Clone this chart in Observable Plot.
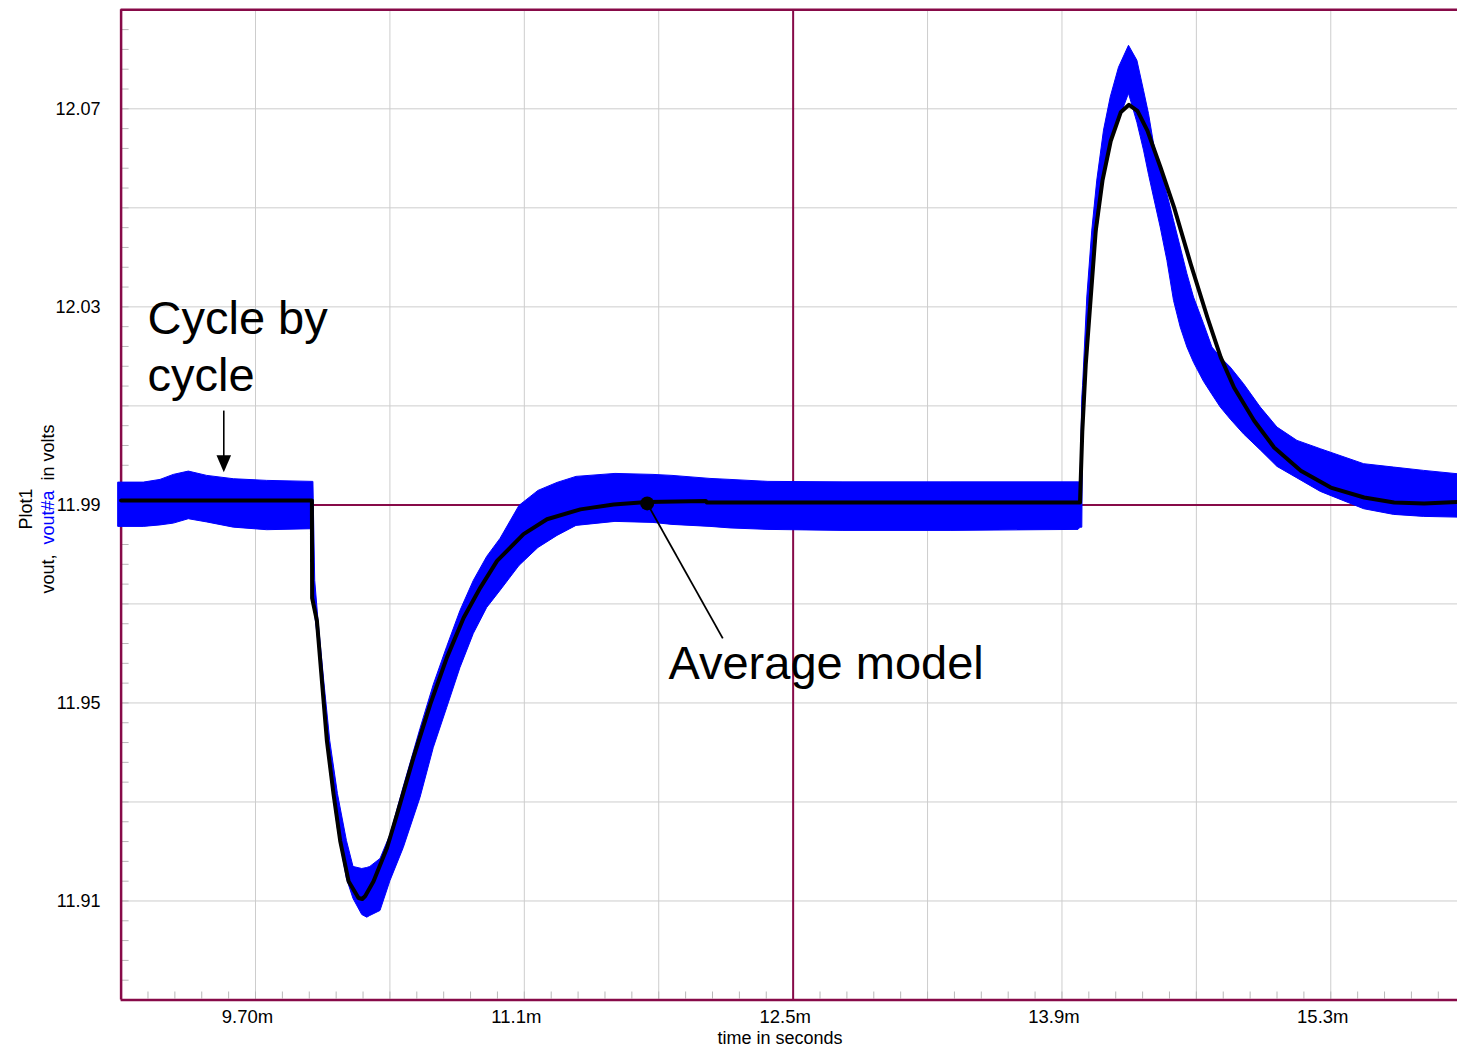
<!DOCTYPE html>
<html>
<head>
<meta charset="utf-8">
<script src="https://cdn.jsdelivr.net/npm/d3@7"></script>
<script src="https://cdn.jsdelivr.net/npm/@observablehq/plot@0.6"></script>
<style>
  html, body { margin: 0; padding: 0; background: #fff; }
  #chart svg { display: block; }
</style>
</head>
<body>
<div id="chart"></div>
<script>
// ---- Average model (black line): time in ms, volts ----
const avgT = [9.0, 9.9937, 9.9948, 10.0198, 10.0459, 10.0719, 10.1063, 10.1412, 10.1845, 10.2366, 10.2559, 10.2715, 10.3148, 10.3846, 10.437, 10.523,
              10.610, 10.697, 10.784, 10.871, 10.958, 11.096, 11.218, 11.392, 11.565, 11.740, 12.045, 12.050,
              13.994, 14.006, 14.024, 14.050, 14.076, 14.111, 14.154, 14.206, 14.249, 14.293, 14.345, 14.414, 14.484, 14.571, 14.658, 14.727, 14.796, 14.901, 15.005, 15.144, 15.300, 15.474, 15.630, 15.786, 15.960];
const avgV = [11.9909, 11.9909, 11.9712, 11.9666, 11.9544, 11.9423, 11.9316, 11.9221, 11.9140, 11.9106, 11.9104, 11.9110, 11.9140, 11.9207, 11.9275, 11.9390,
              11.9497, 11.9592, 11.9672, 11.9733, 11.9787, 11.9841, 11.9871, 11.9891, 11.9901, 11.9906, 11.9908, 11.9905,
              11.9905, 12.0049, 12.0184, 12.0319, 12.0454, 12.0555, 12.0635, 12.0693, 12.0708, 12.0696, 12.0656, 12.0581, 12.0501, 12.0386, 12.0278, 12.0198, 12.0137, 12.0070, 12.0016, 11.9969, 11.9935, 11.9915, 11.9905, 11.9903, 11.9906];

// ---- Cycle by cycle (blue ripple band): time in ms, upper and lower envelope in volts ----
const cbcT  = [8.9865, 9.1182, 9.2052, 9.2744, 9.3526, 9.4484, 9.5869, 9.7609, 9.9979,
               10.0016, 10.0109, 10.0281, 10.0578, 10.0891, 10.1292, 10.1761, 10.2105, 10.2559, 10.2820, 10.2976,
               10.3509, 10.4030, 10.4722, 10.5592, 10.6285, 10.6983, 10.7675, 10.8368, 10.9066, 10.9758,
               11.0748, 11.1737, 11.2727, 11.3716, 11.5747, 11.7726, 11.8716, 12.0695, 12.1736, 12.3715,
               12.7621, 13.3200, 13.9859, 13.997, 14.006, 14.010, 14.032, 14.058, 14.084, 14.119, 14.154, 14.197,
               14.2491, 14.2929, 14.3273, 14.3533, 14.3794, 14.4143, 14.4492, 14.4836, 14.5185, 14.5534, 14.5878, 14.6399,
               14.6837, 14.7270, 14.7790, 14.8484, 14.9354, 15.0224, 15.1266, 15.2480, 15.4737, 15.6300, 15.7863, 15.9604];
const cbcHi = [11.9945, 11.9945, 11.99505, 11.99606, 11.99673, 11.99586, 11.99519, 11.99485, 11.99465,
               11.99465, 11.97465, 11.96657, 11.95444, 11.94232, 11.93162, 11.92212, 11.91687, 11.91646, 11.91667, 11.91687,
               11.91848, 11.92333, 11.93303, 11.94475, 11.95364, 11.96131, 11.96859, 11.97465, 11.9795, 11.98313,
               11.9898, 11.99283, 11.99444, 11.99566, 11.99626, 11.99606, 11.99586, 11.99525, 11.99505, 11.99465,
               11.99455, 11.99455, 11.99455, 11.9945, 12.0117, 12.0140, 12.0319, 12.0454, 12.0555, 12.0656, 12.0723, 12.0783,
               12.08273, 12.0797, 12.07364, 12.06893, 12.06293, 12.05768, 12.05271, 12.04737, 12.04198, 12.03661, 12.03188, 12.02651,
               12.02178, 12.01976, 12.01774, 12.01438, 12.00966, 12.00562, 12.00293, 12.00125, 11.99822, 11.99754, 11.99687, 11.9962];
const cbcLo = [11.98556, 11.98556, 11.98586, 11.98622, 11.98711, 11.98646, 11.98541, 11.98489, 11.98509,
               11.9712, 11.96758, 11.96212, 11.94818, 11.93626, 11.92455, 11.91444, 11.9104, 11.90717, 11.90663, 11.90697,
               11.90798, 11.91404, 11.92071, 11.93081, 11.94091, 11.94899, 11.95707, 11.96394, 11.96919, 11.97263,
               11.97768, 11.98131, 11.98374, 11.98576, 11.98657, 11.98636, 11.98596, 11.98556, 11.98525, 11.98495,
               11.98475, 11.98475, 11.98495, 11.9854, 11.9854, 12.0040, 12.0221, 12.0347, 12.0454, 12.0559, 12.0625, 12.0676,
               12.07303, 12.06717, 12.06156, 12.05667, 12.05208, 12.04602, 12.03929, 12.03121, 12.02582, 12.02178, 12.01869, 12.01485,
               12.01222, 12.00966, 12.00723, 12.00424, 12.00101, 11.99768, 11.99535, 11.99263, 11.98913, 11.98798, 11.98758, 11.98743];

// ---- Axes ----
const xTicks = [9.7, 11.1, 12.5, 13.9, 15.3];
const xTickLabels = ["9.70m", "11.1m", "12.5m", "13.9m", "15.3m"];
const xGrid = [9.7, 10.4, 11.1, 11.8, 13.2, 13.9, 14.6, 15.3];
const xCross = [12.5];
const yTicks = [11.91, 11.95, 11.99, 12.03, 12.07];
const yTickLabels = ["11.91", "11.95", "11.99", "12.03", "12.07"];
const yGrid = [11.91, 11.93, 11.95, 11.97, 12.01, 12.03, 12.05, 12.07];
const yCross = [11.99];
const xDomain = [9.0, 15.96];
const yDomain = [11.89, 12.09];

// ---- Annotations ----
const cycleNote = [{t: 9.1375, v: 12.0131, label: "Cycle by\ncycle"}];
const cycleArrow = [{t: 9.5348, v1: 12.00905, v2: 11.9990, tip: 11.99659}];
const avgNote = [{t: 11.8507, v: 11.9549, label: "Average model"}];
const avgPointer = [{t1: 12.1336, v1: 11.96305, t2: 11.7398, v2: 11.9903}];

const xMinor = d3.range(0, 50).map(i => 9 + 0.14 * i).filter(d => d < 15.96);
const yMinor = d3.range(0, 51).map(i => 11.89 + 0.004 * i);

const maroon = "#870a48";
const gridGray = "#cdcdcd";
const blue = "#0000ff";

const avg = avgT.map((t, i) => ({t, v: avgV[i]}));
const cbc = cbcT.map((t, i) => ({t, hi: cbcHi[i], lo: cbcLo[i]}));

const W = 1457, H = 1051;
const mL = 120.6, mR = 0, mT = 9.3, mB = 51.5;
const innerW = W - mL - mR, innerH = H - mT - mB;

const plot = Plot.plot({
  width: W,
  height: H,
  marginLeft: mL, marginRight: mR, marginTop: mT, marginBottom: mB,
  x: {domain: xDomain},
  y: {domain: yDomain},
  style: {fontFamily: "'Liberation Sans', Arial, Helvetica, sans-serif", fontSize: "18px", background: "white", color: "black"},
  marks: [
    Plot.gridX(xGrid, {stroke: gridGray, strokeOpacity: 1, strokeWidth: 1}),
    Plot.gridY(yGrid, {stroke: gridGray, strokeOpacity: 1, strokeWidth: 1}),
    Plot.tickX(xMinor, {stroke: "#b8b8b8", insetTop: innerH - 8, insetBottom: 1}),
    Plot.tickY(yMinor, {stroke: "#b8b8b8", insetLeft: 1, insetRight: innerW - 8}),
    Plot.ruleX(xCross, {stroke: maroon, strokeWidth: 2}),
    Plot.ruleY(yCross, {stroke: maroon, strokeWidth: 2}),
    Plot.ruleX([xDomain[0]], {stroke: maroon, strokeWidth: 2.5}),
    Plot.ruleY(yDomain, {stroke: maroon, strokeWidth: 2.5}),
    Plot.areaY(cbc, {x: "t", y1: "lo", y2: "hi", fill: blue, stroke: blue, strokeWidth: 1}),
    Plot.line(avg, {x: "t", y: "v", stroke: "black", strokeWidth: 4, strokeLinejoin: "round"}),
    Plot.text(cycleNote, {x: "t", y: "v", text: "label", fontSize: 47, textAnchor: "start", lineAnchor: "bottom", lineHeight: 1.206, fill: "black"}),
    Plot.link(cycleArrow, {x1: "t", x2: "t", y1: "v1", y2: "v2", stroke: "black", strokeWidth: 1.6}),
    Plot.vector(cycleArrow, {x: "t", y: "tip", length: 17, rotate: 180, shape: "spike", r: 7.3, anchor: "end", fill: "black", stroke: "none"}),
    Plot.text(avgNote, {x: "t", y: "v", text: "label", fontSize: 47, textAnchor: "start", lineAnchor: "bottom", fill: "black"}),
    Plot.link(avgPointer, {x1: "t1", y1: "v1", x2: "t2", y2: "v2", stroke: "black", strokeWidth: 1.8}),
    Plot.dot(avgPointer, {x: "t2", y: "v2", r: 7, fill: "black", stroke: "none"}),
    Plot.axisX(xTicks, {tickFormat: d => xTickLabels[xTicks.indexOf(d)], tickSize: 0, tickPadding: 10, dx: -8, fontSize: 18.5, label: null}),
    Plot.axisY(yTicks, {tickFormat: d => yTickLabels[yTicks.indexOf(d)], tickSize: 0, tickPadding: 20.6, fontSize: 18, label: null})
  ]
});

const svg = d3.select(plot);
svg.append("text")
  .attr("transform", "translate(31.5,509) rotate(-90)")
  .attr("text-anchor", "middle").attr("font-size", 18).attr("fill", "black")
  .text("Plot1");
const yl = svg.append("text")
  .attr("transform", "translate(53.5,509) rotate(-90)")
  .attr("text-anchor", "middle").attr("font-size", 18).attr("fill", "black")
  .style("white-space", "pre");
yl.append("tspan").text("vout,  ");
yl.append("tspan").attr("fill", blue).text("vout#a");
yl.append("tspan").text("  in volts");
svg.append("text")
  .attr("x", 780).attr("y", 1044)
  .attr("text-anchor", "middle").attr("font-size", 18).attr("fill", "black")
  .text("time in seconds");

document.getElementById("chart").appendChild(plot);
</script>
</body>
</html>
